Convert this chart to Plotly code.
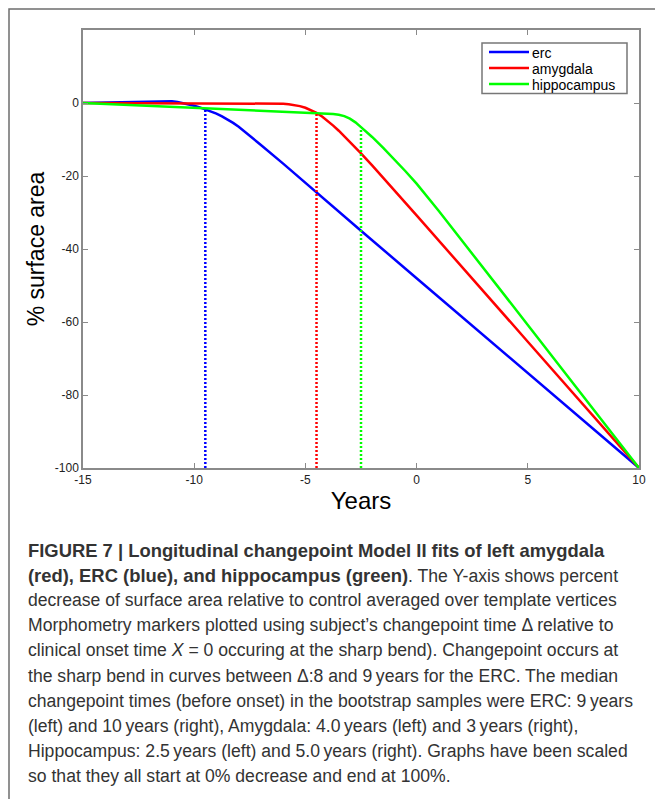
import plotly.graph_objects as go

# ---- data ----
erc_x = [-15, -14, -13, -12, -11.5, -11.25, -11, -10.75, -10.5, -10.25, -10, -9.75, -9.5, -9.25, -9,
         -8.75, -8.5, -8.25, -8, -7.5, -7, -6, -4.5, -2.5, 0, 5, 10]
erc_y = [0, 0.15, 0.3, 0.5, 0.6, 0.6, 0.5, 0.3, 0.0, -0.35, -0.75, -1.2, -1.7, -2.25, -2.9,
         -3.65, -4.5, -5.45, -6.5, -8.9, -11.5, -16.6, -24.6, -35.0, -48.0, -74.0, -100]

amy_x = [-15, -12, -9, -7, -6.5, -6, -5.75, -5.5, -5.25, -5, -4.75, -4.5, -4.25, -4, -3.75, -3.5,
         -3.25, -3, -2.5, -2, -1, 0, 5, 10]
amy_y = [0, 0, 0, -0.05, -0.1, -0.2, -0.35, -0.55, -0.85, -1.3, -1.9, -2.7, -3.7, -4.9, -6.2, -7.6,
         -9.1, -10.6, -13.8, -17.1, -23.9, -30.8, -65.4, -100]

hip_x = [-15, -12, -10, -8, -6, -5, -4.5, -4, -3.75, -3.5, -3.25, -3, -2.75, -2.5, -2.25, -2,
         -1.5, -1, -0.5, 0, 1, 5, 10]
hip_y = [0, -0.8, -1.3, -1.8, -2.3, -2.5, -2.65, -2.8, -3.0, -3.2, -3.6, -4.3, -5.3, -6.6, -7.9, -9.3,
         -12.3, -15.4, -18.7, -22.1, -29.6, -60.8, -100]

series_names = ["erc", "amygdala", "hippocampus"]
series_colors = ["#0000ff", "#ff0000", "#00ff00"]

changepoint_x = [-9.5, -4.5, -2.5]
changepoint_top = [-1.8, -2.8, -6.8]
changepoint_bottom = -100

x_ticks = [-15, -10, -5, 0, 5, 10]
y_ticks = [-100, -80, -60, -40, -20, 0]

BOLD = '<span style="font-size:18.4px"><b>{}</b></span>'
caption_lines = [
    BOLD.format("FIGURE 7 | Longitudinal changepoint Model II fits of left amygdala"),
    BOLD.format("(red), ERC (blue), and hippocampus (green)") + ". The Y-axis shows percent",
    "decrease of surface area relative to control averaged over template vertices",
    "Morphometry markers plotted using subject\u2019s changepoint time \u0394 relative to",
    "clinical onset time <i>X</i> = 0 occuring at the sharp bend). Changepoint occurs at",
    "the sharp bend in curves between \u0394:8 and 9\u2009years for the ERC. The median",
    "changepoint times (before onset) in the bootstrap samples were ERC: 9\u2009years",
    "(left) and 10\u2009years (right), Amygdala: 4.0\u2009years (left) and 3\u2009years (right),",
    "Hippocampus: 2.5\u2009years (left) and 5.0\u2009years (right). Graphs have been scaled",
    "so that they all start at 0% decrease and end at 100%.",
]

# ---- layout geometry (pixels) ----
W, H = 655, 799
L, R, T, B = 83, 16, 30, 331
PW, PH = W - L - R, H - T - B
FONT = "Liberation Sans, Arial, sans-serif"


def px_to_paper_x(px):
    return (px - L) / PW


def px_to_paper_y(py):
    return (H - B - py) / PH


fig = go.Figure()

for xs, ys, name, col in zip([erc_x, amy_x, hip_x], [erc_y, amy_y, hip_y], series_names, series_colors):
    fig.add_trace(go.Scatter(x=xs, y=ys, mode="lines", name=name,
                             line=dict(color=col, width=2.5)))

for cx, top, col in zip(changepoint_x, changepoint_top, series_colors):
    fig.add_trace(go.Scatter(x=[cx, cx], y=[changepoint_bottom, top], mode="lines",
                             showlegend=False, hoverinfo="skip",
                             line=dict(color=col, width=2.5, dash="2px,2px")))

axis_common = dict(
    showgrid=False, zeroline=False, showline=True, linecolor="#8a8a8a", linewidth=1.5,
    mirror="ticks", ticks="inside", ticklen=5, tickwidth=1.2, tickcolor="#8a8a8a",
    tickfont=dict(family=FONT, size=12, color="#222"),
)

fig.update_xaxes(range=[-15, 10], tickvals=x_ticks, ticktext=[str(v) for v in x_ticks],
                 title=dict(text="Years", font=dict(family=FONT, size=24, color="#000"), standoff=6),
                 **axis_common)
fig.update_yaxes(range=[-100, 20], tickvals=y_ticks, ticktext=[str(v) for v in y_ticks],
                 title=dict(text="% surface area", font=dict(family=FONT, size=23, color="#000"), standoff=4),
                 **axis_common)

annotations = []
for i, line in enumerate(caption_lines):
    annotations.append(dict(
        text=line, xref="paper", yref="paper",
        x=px_to_paper_x(26), y=px_to_paper_y(550 + 25.1 * i),
        xanchor="left", yanchor="middle", showarrow=False, align="left",
        font=dict(family=FONT, size=17.6, color="#333"),
    ))

shapes = [dict(type="rect", xref="paper", yref="paper",
               x0=px_to_paper_x(9), y0=px_to_paper_y(900), x1=px_to_paper_x(720), y1=px_to_paper_y(9),
               line=dict(color="#6e6e6e", width=1.5), fillcolor="rgba(0,0,0,0)", layer="below")]

# legend box (drawn like the MATLAB legend: compact rows)
row_pitch = 16
leg_left, leg_right, leg_top, leg_bottom = 482, 627, 43, 93.5
leg_rows = [52, 52 + row_pitch, 52 + 2 * row_pitch]
shapes.append(dict(type="rect", xref="paper", yref="paper",
                   x0=px_to_paper_x(leg_left), x1=px_to_paper_x(leg_right),
                   y0=px_to_paper_y(leg_bottom), y1=px_to_paper_y(leg_top),
                   line=dict(color="#777", width=1.5), fillcolor="white", layer="above"))
for col, ry in zip(series_colors, leg_rows):
    shapes.append(dict(type="line", xref="paper", yref="paper",
                       x0=px_to_paper_x(489), x1=px_to_paper_x(529),
                       y0=px_to_paper_y(ry), y1=px_to_paper_y(ry),
                       line=dict(color=col, width=2.5), layer="above"))
# one multi-line text block: base font sets the row pitch, spans set the glyph size
legend_text = "<br>".join('<span style="font-size:14px">{}</span>'.format(n) for n in series_names)
annotations.append(dict(text=legend_text, xref="paper", yref="paper",
                        x=px_to_paper_x(531), y=px_to_paper_y(leg_rows[1] + 0.5),
                        xanchor="left", yanchor="middle", showarrow=False, align="left",
                        borderpad=0,
                        font=dict(family=FONT, size=row_pitch / 1.3, color="#000")))

fig.update_layout(
    width=W, height=H,
    margin=dict(l=L, r=R, t=T, b=B, autoexpand=False),
    paper_bgcolor="white", plot_bgcolor="white",
    showlegend=False,
    annotations=annotations,
    shapes=shapes,
)

fig.write_html("out.html")
